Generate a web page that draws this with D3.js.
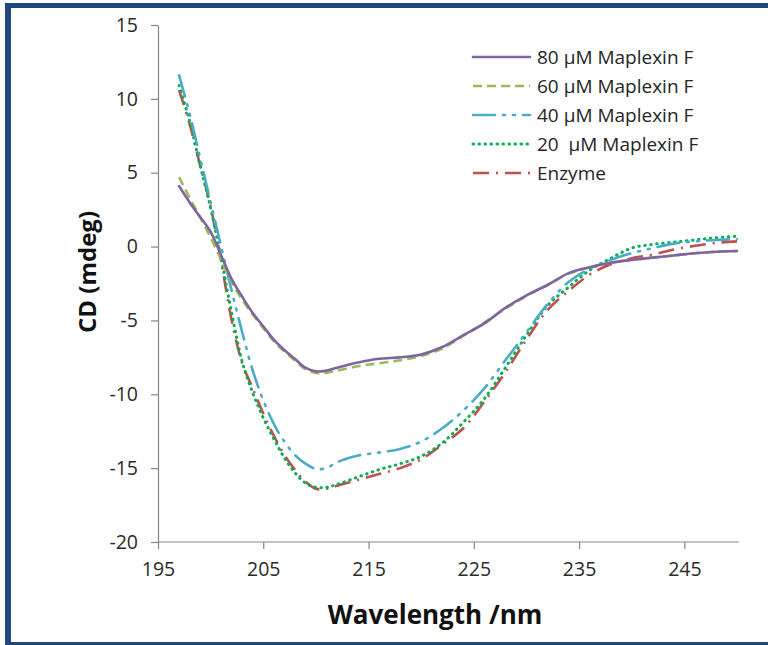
<!DOCTYPE html>
<html>
<head>
<meta charset="utf-8">
<script src="https://cdn.jsdelivr.net/npm/d3@7"></script>
<style>
  body { margin: 0; background: #fff; }
  text { font-family: "Open Sans", "Noto Sans", sans-serif; white-space: pre; }
</style>
</head>
<body>
<div id="chart"></div>
<script>
// wavelengths (nm) shared by every series
let wavelengths = [197, 198, 199, 200, 201, 202, 203, 204, 205, 206, 207, 208, 209, 210, 211, 212,
    214, 216, 218, 220, 222, 224, 226, 228, 230, 232, 234, 236, 238, 240, 242, 244, 246, 248, 250];

let cd80 = [4.1, 3.0, 2.0, 1.0, -0.6, -2.2, -3.4, -4.5, -5.4, -6.3, -7.0, -7.6, -8.2, -8.45, -8.4, -8.2,
    -7.85, -7.6, -7.5, -7.3, -6.8, -6.0, -5.2, -4.15, -3.3, -2.6, -1.8, -1.4, -1.1, -0.9, -0.75, -0.6, -0.45, -0.35, -0.3];
let cd60 = [4.7, 3.3, 2.0, 0.6, -0.9, -2.4, -3.6, -4.6, -5.5, -6.4, -7.1, -7.7, -8.3, -8.55, -8.55, -8.4,
    -8.1, -7.9, -7.7, -7.4, -6.9, -6.05, -5.15, -4.2, -3.35, -2.6, -1.85, -1.4, -1.1, -0.9, -0.75, -0.6, -0.45, -0.35, -0.3];
let cd40 = [11.6, 9.0, 6.0, 3.0, 0.0, -3.0, -5.8, -8.4, -10.4, -12.0, -13.2, -14.1, -14.7, -15.05, -15.0, -14.6,
    -14.15, -13.95, -13.7, -13.2, -12.3, -11.1, -9.6, -7.7, -5.8, -3.9, -2.4, -1.5, -0.9, -0.45, -0.1, 0.2, 0.35, 0.45, 0.5];
let cd20 = [10.9, 8.5, 5.5, 2.6, -0.8, -4.5, -7.8, -9.9, -11.6, -13.0, -14.3, -15.3, -16.0, -16.3, -16.3, -16.1,
    -15.6, -15.1, -14.7, -14.2, -13.3, -11.9, -10.3, -8.2, -6.0, -4.0, -2.75, -1.6, -0.8, -0.1, 0.15, 0.3, 0.45, 0.6, 0.7];
let cdEnzyme = [10.6, 8.3, 5.5, 2.7, -1.0, -5.0, -7.9, -9.6, -11.3, -12.8, -14.1, -15.1, -15.9, -16.4, -16.4, -16.2,
    -15.8, -15.4, -15.0, -14.4, -13.4, -12.3, -10.5, -8.5, -6.3, -4.3, -3.0, -1.9, -1.2, -0.8, -0.55, -0.2, 0.05, 0.25, 0.35];

let seriesNames = ["80 \u00b5M Maplexin F", "60 \u00b5M Maplexin F", "40 \u00b5M Maplexin F", "20  \u00b5M Maplexin F", "Enzyme"];
let xTicks = [195, 205, 215, 225, 235, 245];
let yTicks = [-20, -15, -10, -5, 0, 5, 10, 15];

let svgWidth = 768;
let svgHeight = 645;
let margin = { top: 25, right: 30, bottom: 103, left: 158 };
let width = svgWidth - margin.left - margin.right;
let height = svgHeight - margin.top - margin.bottom;

let svg = d3.select("#chart")
    .append("svg")
    .attr("width", svgWidth)
    .attr("height", svgHeight);

// blue frame (right side is cut off in the original)
let frame = "#1f497d";
svg.append("rect").attr("x", 5).attr("y", 3).attr("width", 6).attr("height", 642).attr("fill", frame);
svg.append("rect").attr("x", 5).attr("y", 3).attr("width", 763).attr("height", 5).attr("fill", frame);
svg.append("rect").attr("x", 5).attr("y", 642).attr("width", 763).attr("height", 6).attr("fill", frame);

let chartGroup = svg.append("g")
    .attr("transform", `translate(${margin.left}, ${margin.top})`);

let xScale = d3.scaleLinear().domain([195, 250]).range([0, 579]);
let yScale = d3.scaleLinear().domain([-20, 15]).range([height, 0]);

// plain hyphen for negatives, as in the original
let plain = d => String(d);

let bottomAxis = d3.axisBottom(xScale).tickValues(xTicks).tickFormat(plain)
    .tickSize(7).tickSizeOuter(0).tickPadding(13);
let leftAxis = d3.axisLeft(yScale).tickValues(yTicks).tickFormat(plain)
    .tickSize(7).tickSizeOuter(0).tickPadding(13);

let xAxisG = chartGroup.append("g")
    .attr("transform", `translate(0, ${height})`)
    .call(bottomAxis);
xAxisG.select(".domain").attr("d", `M0,0H${xScale(250) + 2}`);

let yAxisG = chartGroup.append("g").call(leftAxis);

[xAxisG, yAxisG].forEach(g => {
    g.selectAll(".domain, .tick line").attr("stroke", "#868686").attr("stroke-width", 1.2);
    g.selectAll("text").attr("font-size", 19.5).attr("fill", "#2a2a2a")
        .attr("font-family", "'Open Sans', sans-serif");
});

// series styles
let colors = ["#8064a2", "#9bbb59", "#4bacc6", "#00b050", "#c0504d"];
let dashes = [null, "9,5", "22,8,2,8,2,8", "0.5,5.5", "16,7,2,7"];
let caps = ["round", "butt", "round", "round", "butt"];
let allSeries = [cd80, cd60, cd40, cd20, cdEnzyme];

let line = d3.line()
    .x(d => xScale(d[0]))
    .y(d => yScale(d[1]))
    .curve(d3.curveCatmullRom.alpha(0.5));

// draw in reverse so 80 uM sits on top like in Excel
allSeries.map((vals, i) => i).reverse().forEach(i => {
    chartGroup.append("path")
        .datum(wavelengths.map((w, j) => [w, allSeries[i][j]]))
        .attr("d", line)
        .attr("fill", "none")
        .attr("stroke", colors[i])
        .attr("stroke-width", i == 3 ? 3 : 2.6)
        .attr("stroke-linecap", caps[i])
        .attr("stroke-dasharray", dashes[i]);
});

// legend
let legend = svg.append("g").attr("transform", "translate(473, 57)");
seriesNames.forEach((name, i) => {
    let row = legend.append("g").attr("transform", `translate(0, ${i * 29})`);
    row.append("line")
        .attr("x1", 0).attr("x2", 57).attr("y1", 0).attr("y2", 0)
        .attr("stroke", colors[i])
        .attr("stroke-width", i == 3 ? 3 : 2.6)
        .attr("stroke-linecap", caps[i])
        .attr("stroke-dasharray", dashes[i]);
    row.append("text")
        .attr("x", 64).attr("y", 6.5)
        .attr("font-size", 19)
        .attr("fill", "#262626")
        .text(name);
});

// axis titles
svg.append("text")
    .attr("transform", "translate(96, 272) rotate(-90)")
    .attr("text-anchor", "middle")
    .attr("font-size", 24)
    .attr("font-weight", "bold")
    .attr("fill", "#111")
    .text("CD (mdeg)");

svg.append("text")
    .attr("x", 435).attr("y", 624)
    .attr("text-anchor", "middle")
    .attr("font-size", 26)
    .attr("font-weight", "bold")
    .attr("fill", "#111")
    .text("Wavelength /nm");
</script>
</body>
</html>
